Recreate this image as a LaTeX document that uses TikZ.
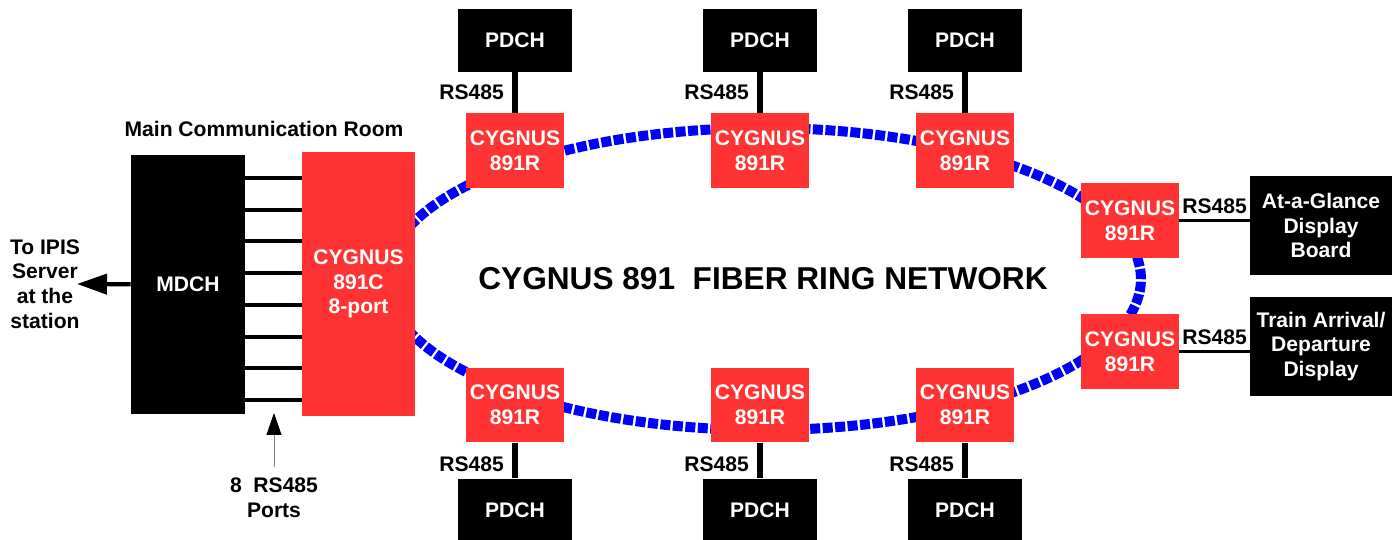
\documentclass[tikz,border=0pt]{standalone}
\usepackage{fontspec}
\setmainfont{Liberation Sans}
\usetikzlibrary{arrows.meta}
\definecolor{cygred}{RGB}{255,51,51}
\definecolor{fiberblue}{RGB}{0,0,255}
\newcommand{\boxfont}{\fontsize{12}{14}\selectfont\bfseries}
\newcommand{\titlefont}{\fontsize{18}{21}\selectfont\bfseries}
\tikzset{
  cygbox/.style={fill=cygred, text=white, inner sep=0pt, align=center, font=\boxfont},
  remote/.style={cygbox, minimum width=1.96cm, minimum height=1.5cm},
  blackbox/.style={fill=black, text=white, inner sep=0pt, align=center, font=\boxfont},
  pdch/.style={blackbox, minimum width=2.28cm, minimum height=1.26cm},
  lab/.style={inner sep=0pt, align=center, font=\boxfont},
  rsline/.style={line width=0.13cm},
  sideline/.style={line width=0.07cm},
  portline/.style={line width=0.08cm},
  fiber/.style={draw=fiberblue, line width=0.2cm, dash pattern=on 0.2cm off 0.05cm},
  bigarrow/.style={line width=0.085cm, -{Triangle[length=0.6cm,width=0.4cm]}},
  pointer/.style={draw=gray, line width=0.5pt, -{Triangle[length=0.44cm,width=0.3cm,color=black,fill=black]}}
}
\begin{document}
\begin{tikzpicture}[x=0.02cm,y=-0.02cm]
\useasboundingbox (0,0) rectangle (1398,540);

% fiber ring first, the units sit on top of it
\coordinate (ringc) at (763.5,279);
\draw[fiber] (ringc) ellipse [x radius=7.55cm, y radius=3.02cm];
\node[font=\titlefont, inner sep=0pt] (ringname) at (763,279) {CYGNUS 891\ \ FIBER RING NETWORK};

% main communication room
\node[blackbox, minimum width=2.28cm, minimum height=5.18cm] (mdch) at (188,284.5) {MDCH};
\node[cygbox, minimum width=2.26cm, minimum height=5.28cm] (hub) at (358.5,284) {CYGNUS\\891C\\8-port};
\node[lab] (room) at (264,128.5) {Main Communication Room};
%the 8 RS485 ports:
\foreach \i in {0,...,7} {
  \pgfmathsetmacro{\py}{178+31.7*\i}
  \draw[portline] (mdch.east |- 0,\py) -- (hub.west |- 0,\py);
}
\coordinate (ipis) at (77,284);
\draw[bigarrow] (mdch) -- (ipis);
\node[lab] (ipislab) at (45,284) {To IPIS\\Server\\at the\\station};
\node[lab] (ports) at (274,498) {8\ \ RS485\\Ports};
\coordinate (portsTip) at (274,413);
\draw[pointer] (ports.north) ++(0,-11) -- (portsTip);

% remote units above and below the ring
\foreach \n/\cx in {1/515,2/760,3/965} {
  \node[pdch] (pdchT\n) at (\cx,40.5) {PDCH};
  \node[remote] (remT\n) at (\cx,150.5) {CYGNUS\\891R};
  \draw[rsline] (pdchT\n) -- node[lab,left=4.5pt] {RS485} (remT\n);
  \node[remote] (remB\n) at (\cx,405) {CYGNUS\\891R};
  \node[pdch] (pdchB\n) at (\cx,510) {PDCH};
  \draw[rsline] (remB\n) -- node[lab,left=4.5pt,yshift=-2pt] {RS485} (pdchB\n);
}

% remote units on the right, with the displays
\node[remote] (remR1) at (1130,220.5) {CYGNUS\\891R};
\node[remote] (remR2) at (1130,351.5) {CYGNUS\\891R};
\node[blackbox, minimum width=2.84cm, minimum height=2cm] (glance) at (1321,225.5) {At-a-Glance\\Display\\Board};
\node[blackbox, minimum width=2.84cm, minimum height=2cm] (arrival) at (1321,346.5) {Train Arrival/\\Departure\\Display};
\draw[sideline] (remR1.east) -- node[lab,above=3pt] {RS485} (remR1.east -| glance.west);
\draw[sideline] (remR2.east) -- node[lab,above=3pt] {RS485} (remR2.east -| arrival.west);
\end{tikzpicture}
\end{document}
